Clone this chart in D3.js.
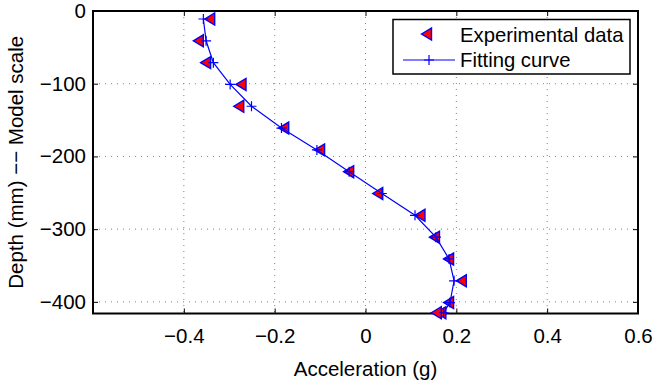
<!DOCTYPE html>
<html>
<head>
<meta charset="utf-8">
<script src="https://cdn.jsdelivr.net/npm/d3@7"></script>
<style>
  html, body { margin: 0; padding: 0; background: #fff; }
  svg { display: block; }
  text { font-family: "Liberation Sans", Arial, Helvetica, sans-serif; fill: #000; }
</style>
</head>
<body>
<svg id="chart" width="654" height="384"></svg>
<script>
// ---- Data ----
const depthExp = [-11, -41, -71, -101, -131, -161, -191, -221, -251, -281, -311, -341, -371, -401, -415, -415];
const accExp   = [-0.342, -0.367, -0.351, -0.273, -0.278, -0.179, -0.100, -0.036, 0.028, 0.121, 0.153, 0.184, 0.212, 0.184, 0.167, 0.157];
const depthFit = [-11, -41, -71, -101, -131, -161, -191, -221, -251, -281, -311, -341, -371, -401, -415];
const accFit   = [-0.357, -0.351, -0.335, -0.298, -0.251, -0.185, -0.107, -0.036, 0.036, 0.109, 0.155, 0.184, 0.195, 0.186, 0.172];
const xTicks = [-0.4, -0.2, 0, 0.2, 0.4, 0.6];
const yTicks = [0, -100, -200, -300, -400];
const xLabel = "Acceleration (g)";
const yLabel = "Depth (mm) \u2212\u2212 Model scale";
const legendLabels = ["Experimental data", "Fitting curve"];

// ---- Layout ----
const svg = d3.select("#chart");
const L = 93, R = 638, T = 11, B = 313.5;
const x = d3.scaleLinear().domain([-0.6, 0.6]).range([L, R]);
const y = d3.scaleLinear().domain([-416, 0]).range([B, T]);
const fmt = v => (v === 0 ? "0" : d3.format("")(v)).replace("-", "\u2212");
const fs = 20.5;

// grid
const grid = svg.append("g").attr("stroke", "#808080").attr("stroke-width", 1).attr("stroke-dasharray", "1,5");
xTicks.forEach(t => grid.append("line").attr("x1", x(t)).attr("x2", x(t)).attr("y1", T).attr("y2", B));
yTicks.forEach(t => grid.append("line").attr("x1", L).attr("x2", R).attr("y1", y(t)).attr("y2", y(t)));

// axes
const xAxis = d3.axisBottom(x).tickValues(xTicks).tickFormat(fmt).tickSizeInner(-5).tickSizeOuter(0).tickPadding(15);
const yAxis = d3.axisLeft(y).tickValues(yTicks).tickFormat(fmt).tickSizeInner(-5).tickSizeOuter(0).tickPadding(7);
const xTop = d3.axisTop(x).tickValues(xTicks).tickFormat("").tickSizeInner(-5).tickSizeOuter(0);
const yRight = d3.axisRight(y).tickValues(yTicks).tickFormat("").tickSizeInner(-5).tickSizeOuter(0);

function style(g) {
  g.select(".domain").remove();
  g.selectAll(".tick line").attr("stroke", "#000").attr("stroke-width", 1);
  g.selectAll(".tick text").attr("font-size", fs).attr("font-family", "Liberation Sans, Arial, sans-serif").attr("fill", "#000");
}
svg.append("g").attr("transform", `translate(0,${B})`).call(xAxis).call(style);
svg.append("g").attr("transform", `translate(${L},0)`).call(yAxis).call(style);
svg.append("g").attr("transform", `translate(0,${T})`).call(xTop).call(style);
svg.append("g").attr("transform", `translate(${R},0)`).call(yRight).call(style);

// box
svg.append("rect").attr("x", L).attr("y", T).attr("width", R - L).attr("height", B - T)
  .attr("fill", "none").attr("stroke", "#000").attr("stroke-width", 2);

// markers
const triPath = "M-5.5,0L4.5,-6L4.5,6Z";
const plusPath = "M-5,0H5M0,-5V5";

const expData = accExp.map((a, i) => ({ a, d: depthExp[i] }));
const fitData = accFit.map((a, i) => ({ a, d: depthFit[i] }));

svg.append("g").selectAll("path").data(expData).join("path")
  .attr("d", triPath)
  .attr("transform", p => `translate(${x(p.a)},${y(p.d)})`)
  .attr("fill", "#ff0000").attr("stroke", "#0000ff").attr("stroke-width", 1.4);

svg.append("path").datum(fitData)
  .attr("d", d3.line().x(p => x(p.a)).y(p => y(p.d)))
  .attr("fill", "none").attr("stroke", "#0000ff").attr("stroke-width", 1.2);

svg.append("g").selectAll("path").data(fitData).join("path")
  .attr("d", plusPath)
  .attr("transform", p => `translate(${x(p.a)},${y(p.d)})`)
  .attr("fill", "none").attr("stroke", "#0000ff").attr("stroke-width", 1.2);

// axis labels
svg.append("text").attr("x", (L + R) / 2).attr("y", 376).attr("text-anchor", "middle")
  .attr("font-size", fs).text(xLabel);
svg.append("text").attr("transform", `translate(23,${(T + B) / 2}) rotate(-90)`).attr("text-anchor", "middle")
  .attr("font-size", fs).text(yLabel);

// legend
const lg = svg.append("g");
lg.append("rect").attr("x", 393).attr("y", 19.5).attr("width", 237).attr("height", 54.5)
  .attr("fill", "#fff").attr("stroke", "#000").attr("stroke-width", 1.5);
lg.append("path").attr("d", triPath).attr("transform", "translate(427,34)")
  .attr("fill", "#ff0000").attr("stroke", "#0000ff").attr("stroke-width", 1.4);
lg.append("line").attr("x1", 403).attr("x2", 455).attr("y1", 60).attr("y2", 60)
  .attr("stroke", "#0000ff").attr("stroke-width", 1.2);
lg.append("path").attr("d", plusPath).attr("transform", "translate(429,60)")
  .attr("stroke", "#0000ff").attr("stroke-width", 1.2);
lg.selectAll("text.lt").data(legendLabels).join("text").attr("class", "lt")
  .attr("x", 460).attr("y", (d, i) => [41.5, 67][i]).attr("font-size", 20.3).text(d => d);
</script>
</body>
</html>
